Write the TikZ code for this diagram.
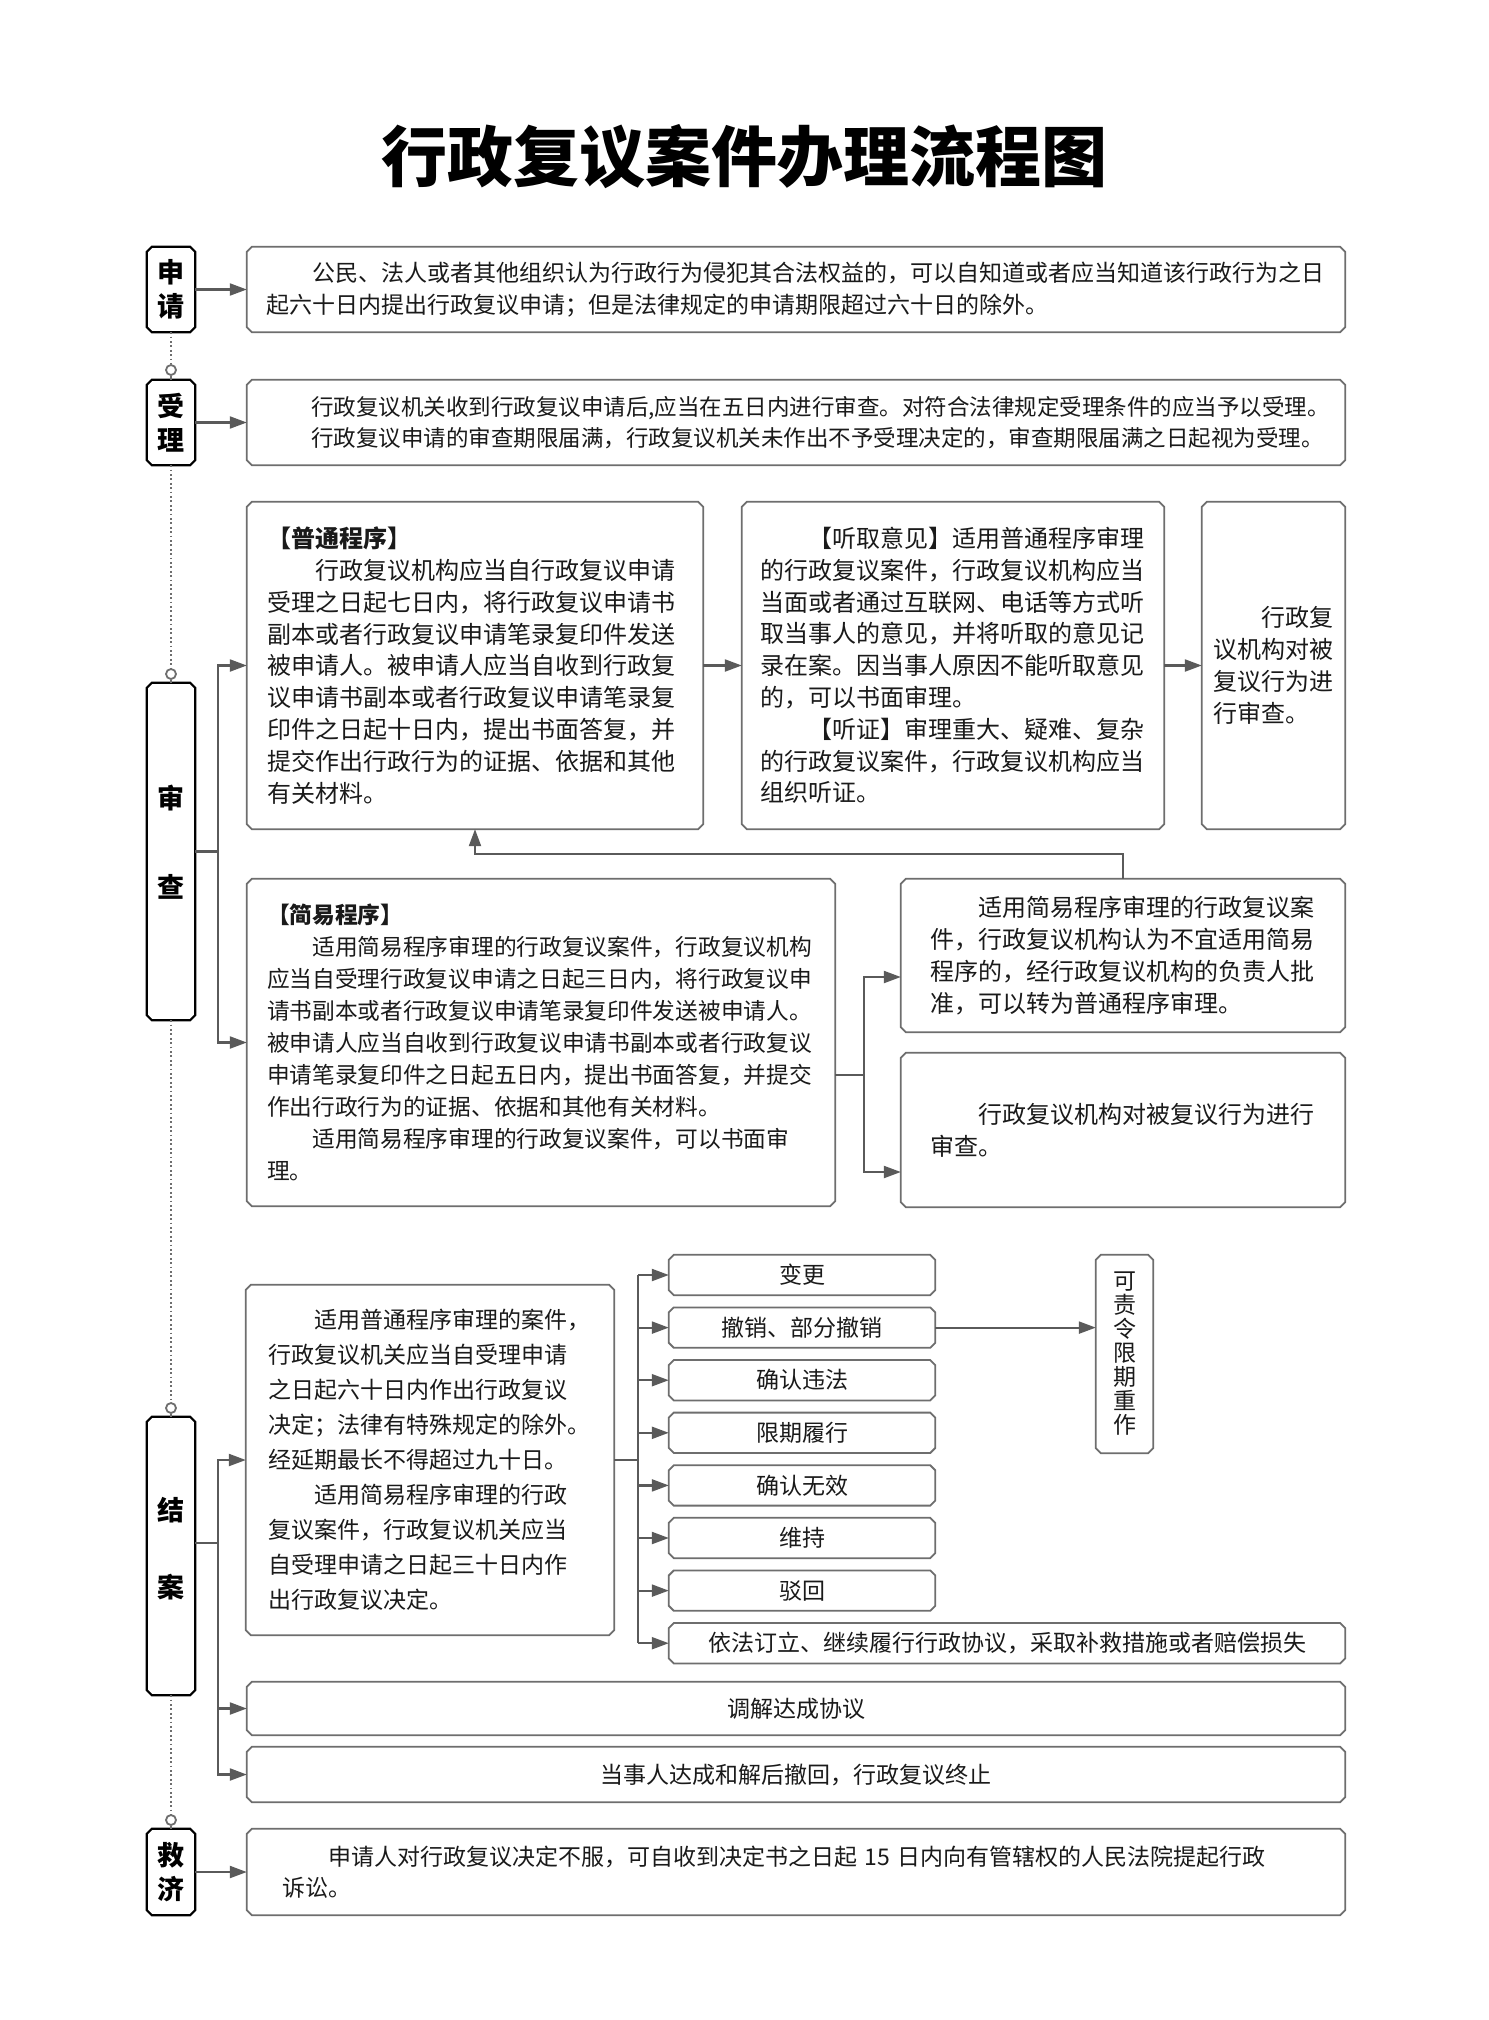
\documentclass[tikz,border=0pt]{standalone}
\usepackage{fontspec}
\setmainfont{Noto Sans CJK SC}
\usetikzlibrary{arrows.meta,calc}
\definecolor{edgec}{HTML}{6E6E6E}
\definecolor{arrc}{HTML}{5A5A5A}
\definecolor{txtc}{HTML}{1A1A1A}
\newcommand\fsWide{\fontsize{23}{31.5}\selectfont}
\newcommand\fsWideB{\fontsize{22.5}{31.5}\selectfont}
\newcommand\fsMid{\fontsize{24}{31.8}\selectfont}
\newcommand\fsJy{\fontsize{22.7}{32}\selectfont}
\newcommand\fsJa{\fontsize{23}{35}\selectfont}
\newcommand\fsSm{\fontsize{23}{24}\selectfont}
\newcommand\fsTag{\fontsize{27}{34}\selectfont\bfseries}
\tikzset{
  chamfer/.style={append after command={\pgfextra{\draw[#1]
    ([xshift=5pt]\tikzlastnode.north west) -- ([xshift=-5pt]\tikzlastnode.north east)
    -- ([yshift=-5pt]\tikzlastnode.north east) -- ([yshift=5pt]\tikzlastnode.south east)
    -- ([xshift=-5pt]\tikzlastnode.south east) -- ([xshift=5pt]\tikzlastnode.south west)
    -- ([yshift=5pt]\tikzlastnode.south west) -- ([yshift=-5pt]\tikzlastnode.north west) -- cycle;}}},
  cbox/.style={rectangle, draw=none, text=txtc, inner ysep=0pt, align=left,
    chamfer={draw=edgec, line width=1.8pt}},
  tagbox/.style={rectangle, draw=none, minimum width=48pt, inner sep=0pt, align=center, font=\fsTag,
    chamfer={draw=black, line width=2.2pt}},
  tagtxt/.style={inner sep=0pt, font=\fsTag},
  dotc/.style={circle, draw=edgec, line width=1.8pt, fill=white, minimum size=10pt, inner sep=0pt},
  dotl/.style={draw=edgec, line width=1.8pt, dash pattern=on 1.8pt off 2.6pt},
  ln/.style={draw=arrc, line width=2.2pt},
  arr/.style={draw=arrc, line width=2.2pt, -{Triangle[length=17pt,width=12pt]}},
}
\begin{document}
\begin{tikzpicture}[x=1pt,y=-1pt]
\useasboundingbox[fill=white] (0,0) rectangle (1488,2020);

% title
\node[font=\fontsize{66}{66}\selectfont\bfseries, text=black] (title) at (744,157) {行政复议案件办理流程图};

% stage tags
\node[tagbox, minimum height=85pt] (tagA) at (171,289.5) {申\\请};
\node[tagbox, minimum height=85pt] (tagB) at (171,422.5) {受\\理};
\node[tagbox, minimum height=337pt] (tagC) at (171,851.5) {};
\node[tagtxt] (tagC1) at (171,798) {审};
\node[tagtxt] (tagC2) at (171,887) {查};
\node[tagbox, minimum height=278pt] (tagD) at (171,1556) {};
\node[tagtxt] (tagD1) at (171,1510) {结};
\node[tagtxt] (tagD2) at (171,1587) {案};
\node[tagbox, minimum height=86pt] (tagE) at (171,1872) {救\\济};

% timeline dots
\node[dotc] (c1) at (171,370) {};
\node[dotc] (c2) at (171,674) {};
\node[dotc] (c3) at (171,1408) {};
\node[dotc] (c4) at (171,1820) {};
\draw[dotl] (tagA.south) -- (c1.north);
\draw[dotl] (tagB.south) -- (c2.north);
\draw[dotl] (tagC.south) -- (c3.north);
\draw[dotl] (tagD.south) -- (c4.north);
\draw[draw=edgec, line width=1.8pt] (c1.south) -- (tagB.north);
\draw[draw=edgec, line width=1.8pt] (c2.south) -- (tagC.north);
\draw[draw=edgec, line width=1.8pt] (c3.south) -- (tagD.north);
\draw[draw=edgec, line width=1.8pt] (c4.south) -- (tagE.north);

% 申请
\node[cbox, minimum width=1098pt, minimum height=85pt, text width=1060pt, inner xsep=19pt, font=\fsWide] (boxA) at (796,289.5)
{\hspace*{2em}公民、法人或者其他组织认为行政行为侵犯其合法权益的，可以自知道或者应当知道该行政行为之日\\起六十日内提出行政复议申请；但是法律规定的申请期限超过六十日的除外。};
\draw[arr] (tagA.east) -- (boxA.west);

% 受理
\node[cbox, minimum width=1098pt, minimum height=85pt, text width=1060pt, inner xsep=19pt, font=\fsWideB] (boxB) at (796,422.5)
{\hspace*{2em}行政复议机关收到行政复议申请后,应当在五日内进行审查。对符合法律规定受理条件的应当予以受理。\\\hspace*{2em}行政复议申请的审查期限届满，行政复议机关未作出不予受理决定的，审查期限届满之日起视为受理。};
\draw[arr] (tagB.east) -- (boxB.west);

% 审查
\node[cbox, minimum width=456pt, minimum height=327pt, text width=416pt, inner xsep=20pt, font=\fsMid] (pt) at (475,665.5)
{{\bfseries 【普通程序】}\\
\hspace*{2em}行政复议机构应当自行政复议申请\\
受理之日起七日内，将行政复议申请书\\
副本或者行政复议申请笔录复印件发送\\
被申请人。被申请人应当自收到行政复\\
议申请书副本或者行政复议申请笔录复\\
印件之日起十日内，提出书面答复，并\\
提交作出行政行为的证据、依据和其他\\
有关材料。};
\node[cbox, minimum width=422pt, minimum height=327pt, text width=386pt, inner xsep=18pt, font=\fsMid] (tq) at (953,665.5)
{\hspace*{2em}【听取意见】适用普通程序审理\\
的行政复议案件，行政复议机构应当\\
当面或者通过互联网、电话等方式听\\
取当事人的意见，并将听取的意见记\\
录在案。因当事人原因不能听取意见\\
的，可以书面审理。\\
\hspace*{2em}【听证】审理重大、疑难、复杂\\
的行政复议案件，行政复议机构应当\\
组织听证。};
\node[cbox, minimum width=143pt, minimum height=327pt, text width=121pt, inner xsep=11pt, font=\fsMid] (sc) at (1273.5,665.5)
{\hspace*{2em}行政复\\议机构对被\\复议行为进\\行审查。};
\node[cbox, minimum width=588pt, minimum height=327pt, text width=548pt, inner xsep=20pt, font=\fsJy] (jy) at (541,1042.5)
{{\bfseries 【简易程序】}\\
\hspace*{2em}适用简易程序审理的行政复议案件，行政复议机构\\
应当自受理行政复议申请之日起三日内，将行政复议申\\
请书副本或者行政复议申请笔录复印件发送被申请人。\\
被申请人应当自收到行政复议申请书副本或者行政复议\\
申请笔录复印件之日起五日内，提出书面答复，并提交\\
作出行政行为的证据、依据和其他有关材料。\\
\hspace*{2em}适用简易程序审理的行政复议案件，可以书面审\\
理。};
\node[cbox, minimum width=444pt, minimum height=153pt, text width=386pt, inner xsep=29pt, font=\fsMid] (tr) at (1123,955.5)
{\hspace*{2em}适用简易程序审理的行政复议案\\
件，行政复议机构认为不宜适用简易\\
程序的，经行政复议机构的负责人批\\
准，可以转为普通程序审理。};
\node[cbox, minimum width=444pt, minimum height=154pt, text width=386pt, inner xsep=29pt, font=\fsMid] (br) at (1123,1130)
{\hspace*{2em}行政复议机构对被复议行为进行\\审查。};

\coordinate (sc0) at (218,851.5);
\draw[ln] (tagC.east) -- (sc0);
\draw[arr] (sc0) |- (pt.west);
\draw[arr] (sc0) |- (jy.west);
\draw[arr] (pt.east) -- (tq.west);
\draw[arr] (tq.east) -- (sc.west);
\coordinate (jb) at (864,1075);
\coordinate (ta) at (0,977);
\coordinate (tb) at (0,1172);
\draw[ln] (jy.east |- jb) -- (jb);
\draw[arr] (jb) |- (tr.west |- ta);
\draw[arr] (jb) |- (br.west |- tb);
\coordinate (bk) at (0,854);
\draw[arr] (tr.north) -- (tr.north |- bk) -| (pt.south);

% 结案
\node[cbox, minimum width=368pt, minimum height=350pt, text width=324pt, inner xsep=22pt, font=\fsJa] (ja) at (430,1460)
{\hspace*{2em}适用普通程序审理的案件，\\
行政复议机关应当自受理申请\\
之日起六十日内作出行政复议\\
决定；法律有特殊规定的除外。\\
经延期最长不得超过九十日。\\
\hspace*{2em}适用简易程序审理的行政\\
复议案件，行政复议机关应当\\
自受理申请之日起三十日内作\\
出行政复议决定。};
\coordinate (jc) at (638,1460);
\draw[ln] (ja.east) -- (jc);
\foreach \t [count=\i] in {变更,撤销、部分撤销,确认违法,限期履行,确认无效,维持,驳回} {
  \node[cbox, minimum width=266pt, minimum height=40pt, align=center, font=\fsSm] (r\i) at (802,{1275+52.6*(\i-1)}) {\t};
  \draw[arr] (jc |- r\i.west) -- (r\i.west);
}
\node[cbox, minimum width=676pt, minimum height=40pt, align=center, font=\fsSm] (yf) at (1007,1643.2) {依法订立、继续履行行政协议，采取补救措施或者赔偿损失};
\draw[ln] (jc |- r1.west) -- (jc |- yf.west);
\draw[arr] (jc |- yf.west) -- (yf.west);
\node[cbox, minimum width=57pt, minimum height=198pt, align=center, inner xsep=0pt, font=\fsSm] (kz) at (1124.5,1354) {可\\责\\令\\限\\期\\重\\作};
\draw[arr] (r2.east) -- (r2.east -| kz.west);

\node[cbox, minimum width=1098pt, minimum height=53pt, align=center, font=\fsSm] (tj) at (796,1708.5) {调解达成协议};
\node[cbox, minimum width=1098pt, minimum height=55pt, align=center, font=\fsSm] (dsr) at (796,1774.5) {当事人达成和解后撤回，行政复议终止};
\coordinate (dc) at (218,1543);
\draw[ln] (tagD.east |- dc) -- (dc);
\draw[arr] (dc) |- (ja.west);
\draw[arr] (dc) |- (tj.west);
\draw[arr] (dc) |- (dsr.west);

% 救济
\node[cbox, minimum width=1098pt, minimum height=86pt, text width=1028pt, inner xsep=35pt, font=\fsWide] (jj) at (796,1872)
{\hspace*{2em}申请人对行政复议决定不服，可自收到决定书之日起 15 日内向有管辖权的人民法院提起行政\\诉讼。};
\draw[arr] (tagE.east) -- (jj.west);
\end{tikzpicture}
\end{document}
